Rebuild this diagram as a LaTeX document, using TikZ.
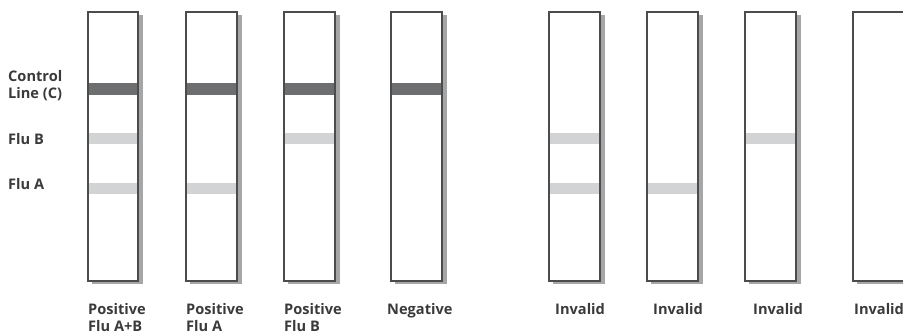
\documentclass[tikz,border=0pt]{standalone}
\usepackage{fontspec}
\setmainfont{Open Sans}
\usetikzlibrary{arrows}

\definecolor{ctrlgray}{HTML}{6D6E70}
\definecolor{bandgray}{HTML}{D1D3D4}
\definecolor{textgray}{HTML}{3A3A3A}

\begin{document}
\begin{tikzpicture}[
    x = 1pt,
    y = -1pt,
    ctrl/.style = {ctrlgray, line width=12},
    band/.style = {bandgray, line width=11},
    shade/.style = {fill = black!35, draw = none},
    strip/.style = {draw = black!70, fill = white, line width = 1.3},
    lbl/.style = {
      anchor = base west,
      inner sep = 0pt,
      text = textgray,
      font = \fontsize{14.6}{17.5}\selectfont\bfseries,
      align = left
    }
  ]
  \useasboundingbox (0,0) rectangle (903,336);
  \scope[]
    % shadows
    \fill[shade] (92,15) rectangle (142.5,284.5);
    \fill[shade] (190,15) rectangle (241.5,284.5);
    \fill[shade] (288,15) rectangle (339.5,284.5);
    \fill[shade] (395,15) rectangle (446.5,284.5);
    \fill[shade] (553,15) rectangle (604.5,284.5);
    \fill[shade] (651,15) rectangle (702.5,284.5);
    \fill[shade] (749,15) rectangle (800.5,284.5);
    \fill[shade] (857,15) rectangle (908.5,284.5);

    % strips
    \draw[strip] (88,12) rectangle (138,281);
    \draw[strip] (186,12) rectangle (237,281);
    \draw[strip] (284,12) rectangle (335,281);
    \draw[strip] (391,12) rectangle (442,281);
    \draw[strip] (549,12) rectangle (600,281);
    \draw[strip] (647,12) rectangle (698,281);
    \draw[strip] (745,12) rectangle (796,281);
    \draw[strip] (853,12) rectangle (904,281);

    % control line
    \draw[ctrl] plot[] coordinates {(88.6,89) (137.4,89)};
    \draw[ctrl] plot[] coordinates {(186.6,89) (236.4,89)};
    \draw[ctrl] plot[] coordinates {(284.6,89) (334.4,89)};
    \draw[ctrl] plot[] coordinates {(391.6,89) (441.4,89)};

    % flu b
    \draw[band] plot[] coordinates {(88.6,139) (137.4,139)};
    \draw[band] plot[] coordinates {(284.6,139) (334.4,139)};
    \draw[band] plot[] coordinates {(549.6,139) (599.4,139)};
    \draw[band] plot[] coordinates {(745.6,139) (795.4,139)};

    % flu a
    \draw[band] plot[] coordinates {(88.6,188.5) (137.4,188.5)};
    \draw[band] plot[] coordinates {(186.6,188.5) (236.4,188.5)};
    \draw[band] plot[] coordinates {(549.6,188.5) (599.4,188.5)};
    \draw[band] plot[] coordinates {(647.6,188.5) (697.4,188.5)};
  \endscope

  % row labels (base = last line)
  \node[lbl] (control) at (8,99) {Control\\Line (C)};
  \node[lbl] (flub) at (8,145) {Flu B};
  \node[lbl] (flua) at (8,190) {Flu A};

  % results
  \node[lbl] (posab) at (88,332) {Positive\\Flu A+B};
  \node[lbl] (posa) at (186,332) {Positive\\Flu A};
  \node[lbl] (posb) at (284,332) {Positive\\Flu B};
  \node[lbl] (neg) at (387,315) {Negative};
  \node[lbl] (inv1) at (555,315) {Invalid};
  \node[lbl] (inv2) at (653,315) {Invalid};
  \node[lbl] (inv3) at (753,315) {Invalid};
  \node[lbl] (inv4) at (854,315) {Invalid};
\end{tikzpicture}
\end{document}
